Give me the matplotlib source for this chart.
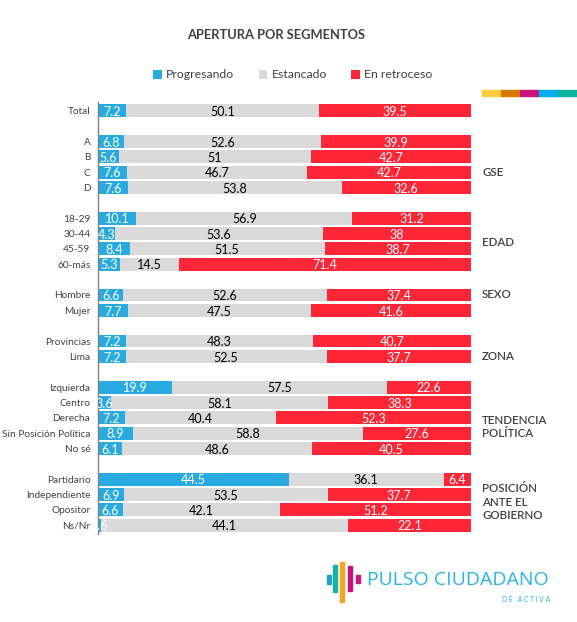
import matplotlib
matplotlib.use("Agg")
import matplotlib.pyplot as plt
from matplotlib.patches import Rectangle
import numpy as np

plt.rcParams['font.family'] = ['Lato', 'DejaVu Sans']

categories = ["Total", "A", "B", "C", "D", "18-29", "30-44", "45-59", "60-más",
              "Hombre", "Mujer", "Provincias", "Lima", "Izquierda", "Centro", "Derecha",
              "Sin Posición Política", "No sé", "Partidario", "Independiente", "Opositor", "Ns/Nr"]
progresando = [7.2, 6.8, 5.6, 7.6, 7.6, 10.1, 4.3, 8.4, 5.3, 6.6, 7.7, 7.2, 7.2,
               19.9, 3.6, 7.2, 8.9, 6.1, 44.5, 6.9, 6.6, 0.6]
estancado = [50.1, 52.6, 51, 46.7, 53.8, 56.9, 53.6, 51.5, 14.5, 52.6, 47.5, 48.3, 52.5,
             57.5, 58.1, 40.4, 58.8, 48.6, 36.1, 53.5, 42.1, 44.1]
retroceso = [39.5, 39.9, 42.7, 42.7, 32.6, 31.2, 38, 38.7, 71.4, 37.4, 41.6, 40.7, 37.7,
             22.6, 38.3, 52.3, 27.6, 40.5, 6.4, 37.7, 51.2, 22.1]
series_names = ["Progresando", "Estancado", "En retroceso"]
groups = ["GSE", "EDAD", "SEXO", "ZONA", "TENDENCIA\nPOLÍTICA", "POSICIÓN\nANTE EL\nGOBIERNO"]

# slot positions (with empty rows between groups)
slots = [0, 2, 3, 4, 5, 7, 8, 9, 10, 12, 13, 15, 16, 18, 19, 20, 21, 22, 24, 25, 26, 27]
group_y = [4, 8.55, 12, 16, 20.6, 25.5]

C_BLUE = "#29ABE2"
C_GRAY = "#DADADA"
C_RED = "#FF2637"
colors = [C_BLUE, C_GRAY, C_RED]
txtcol = ["white", "black", "white"]

fig = plt.figure(figsize=(5.77, 6.22), dpi=100)
ax = fig.add_axes([98/577, 1 - 533.7/622, (471 - 98)/577, (533.7 - 102.3)/622])

vals = np.array([progresando, estancado, retroceso], dtype=float)
tot = vals.sum(axis=0)
norm = vals / tot * 100
left = np.zeros(len(categories))
y = np.array(slots, dtype=float)
for i in range(3):
    ax.barh(y, norm[i], left=left, height=0.84, color=colors[i], label=series_names[i], zorder=2)
    for j in range(len(categories)):
        ax.text(left[j] + norm[i][j] / 2, y[j] + 0.08, f"{vals[i][j]:g}", ha="center", va="center",
                fontsize=9, color=txtcol[i], zorder=3, clip_on=True)
    left += norm[i]

ax.set_xlim(0, 100)
ax.set_ylim(27.55, -0.55)
ax.set_yticks(y)
ax.set_yticklabels(categories, fontsize=7.3, color="#404040")
ax.tick_params(axis="y", length=0, pad=5.5)
ax.set_xticks([])
for s in ["top", "right", "bottom"]:
    ax.spines[s].set_visible(False)
ax.spines["left"].set_color("#808080")
ax.spines["left"].set_linewidth(1.0)

for g, gy in zip(groups, group_y):
    ax.text(1.03, gy, g, transform=ax.get_yaxis_transform(), ha="left", va="center",
            fontsize=8.3, color="#404040", fontweight="semibold", linespacing=1.3)

fig.text(276/577, 1 - 35/622, "APERTURA POR SEGMENTOS", ha="center", va="center",
         fontsize=9.3, fontweight="bold", color="#404040")

# legend
handles, labels = ax.get_legend_handles_labels()
fig.legend(handles, labels, loc="center", bbox_to_anchor=(293/577, 1 - 75/622), ncol=3,
           frameon=False, fontsize=8.8, handlelength=0.7, handleheight=0.7, handletextpad=0.35,
           columnspacing=2.0, labelcolor="#404040")

# color strip top right
strip = ["#FFCD3C", "#D97A00", "#C8137C", "#00AEEF", "#0BB39A"]
x0 = 482
w = 19
for k, c in enumerate(strip):
    fig.patches.append(Rectangle(((x0 + k * w) / 577, 1 - 96/622), w / 577, 6/622,
                                 transform=fig.transFigure, color=c))

# logo
logo_bars = [(327, 575, 584, "#1FA3C0"), (333, 565, 592, "#18B3A8"), (340, 562, 602, "#F5A623"),
             (348, 566, 591, "#C8137C"), (356, 575, 583, "#C8137C")]
for xb, yt, yb, c in logo_bars:
    fig.patches.append(Rectangle((xb / 577, 1 - yb/622), 4 / 577, (yb - yt) / 622,
                                 transform=fig.transFigure, color=c))
fig.text(367/577, 1 - 580/622, "PULSO CIUDADANO", ha="left", va="center", fontsize=14,
         color="#29B5E8", family=["Open Sans", "DejaVu Sans"])
fig.text(550/577, 1 - 600/622, "D E   A C T I V A", ha="right", va="center", fontsize=4.8,
         color="#29B5E8")

fig.savefig("out.png", dpi=100, facecolor="white")
